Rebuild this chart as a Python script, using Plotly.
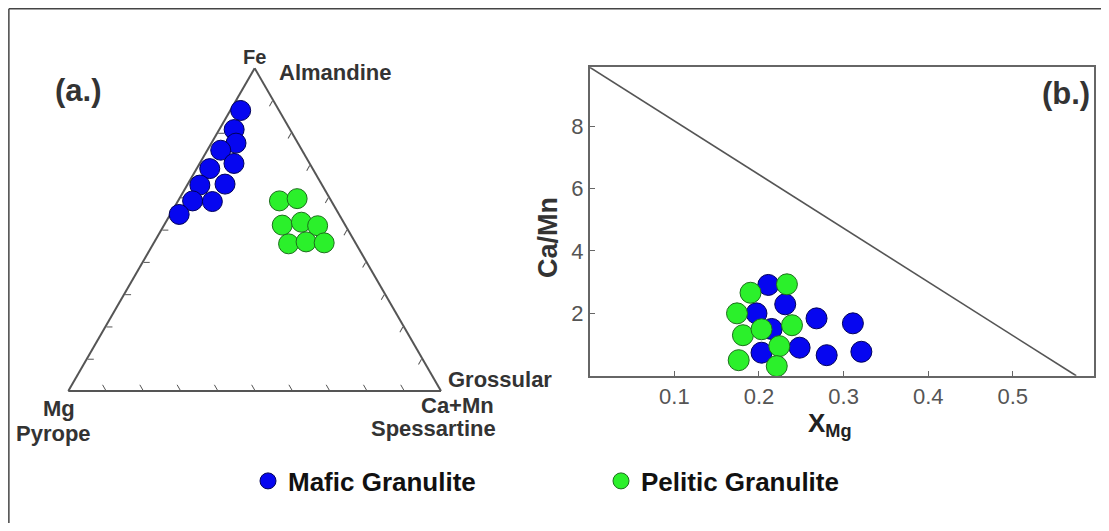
import plotly.graph_objects as go

# ---------------- data ----------------
# (a.) ternary Fe - Mg - (Ca+Mn), percent
mafic_fe = [86.9, 81.0, 76.8, 74.6, 70.5, 68.9, 64.1, 63.8, 58.9, 58.7, 54.7]
mafic_mg = [10.3, 15.0, 16.6, 21.8, 20.3, 27.6, 25.9, 32.8, 37.2, 32.0, 42.9]
mafic_camn = [2.8, 4.0, 6.6, 3.6, 9.2, 3.5, 10.0, 3.4, 3.9, 9.3, 2.4]

pelitic_fe = [58.9, 59.6, 51.4, 52.3, 51.2, 45.6, 46.2, 45.9]
pelitic_mg = [13.9, 8.8, 16.9, 11.3, 7.5, 18.1, 13.1, 8.4]
pelitic_camn = [27.2, 31.6, 31.7, 36.4, 41.3, 36.3, 40.7, 45.7]

# (b.) XMg vs Ca/Mn
mafic_xmg = [0.211, 0.231, 0.197, 0.215, 0.268, 0.311, 0.203, 0.248, 0.280, 0.321]
mafic_camn_ratio = [2.91, 2.29, 2.00, 1.50, 1.84, 1.68, 0.74, 0.90, 0.66, 0.77]
pelitic_xmg = [0.190, 0.233, 0.174, 0.239, 0.181, 0.203, 0.224, 0.176, 0.221]
pelitic_camn_ratio = [2.66, 2.93, 2.00, 1.62, 1.30, 1.49, 0.95, 0.50, 0.31]

boundary_xmg = [0.0, 0.575]
boundary_camn = [9.88, 0.0]

x_ticks = [0.1, 0.2, 0.3, 0.4, 0.5]
x_ticklabels = ["0.1", "0.2", "0.3", "0.4", "0.5"]
y_ticks = [2, 4, 6, 8]
y_ticklabels = ["2", "4", "6", "8"]

series_names = ["Mafic Granulite", "Pelitic Granulite"]

# ---------------- style ----------------
PAGE_OFF = 8                      # default body margin of the html page
FW, FH = 1109 - 2 * PAGE_OFF, 531 - 2 * PAGE_OFF
BLUE, BLUE_EDGE = "#0606F0", "#00005A"
GREEN, GREEN_EDGE = "#2BF02B", "#1C6E1C"
FONT = "Liberation Sans, Arial, sans-serif"
MS = 20


def fx(p):
    return (p - PAGE_OFF) / FW


def fy(p):
    return 1 - (p - PAGE_OFF) / FH


fig = go.Figure()

fig.add_trace(go.Scatterternary(
    a=mafic_fe, b=mafic_mg, c=mafic_camn, mode="markers", name=series_names[0],
    marker=dict(size=MS, color=BLUE, line=dict(color=BLUE_EDGE, width=1)),
    cliponaxis=False, subplot="ternary", showlegend=True))
fig.add_trace(go.Scatterternary(
    a=pelitic_fe, b=pelitic_mg, c=pelitic_camn, mode="markers", name=series_names[1],
    marker=dict(size=MS, color=GREEN, line=dict(color=GREEN_EDGE, width=1)),
    cliponaxis=False, subplot="ternary", showlegend=True))

fig.add_trace(go.Scatter(
    x=boundary_xmg, y=boundary_camn, mode="lines", line=dict(color="#555555", width=1.6),
    showlegend=False, hoverinfo="skip"))
fig.add_trace(go.Scatter(
    x=mafic_xmg, y=mafic_camn_ratio, mode="markers", name=series_names[0],
    marker=dict(size=MS + 1, color=BLUE, line=dict(color=BLUE_EDGE, width=1)),
    showlegend=False, cliponaxis=False))
fig.add_trace(go.Scatter(
    x=pelitic_xmg, y=pelitic_camn_ratio, mode="markers", name=series_names[1],
    marker=dict(size=MS + 1, color=GREEN, line=dict(color=GREEN_EDGE, width=1)),
    showlegend=False, cliponaxis=False))

tern_ax = dict(showgrid=False, showticklabels=False, ticks="inside", ticklen=6, tickwidth=1.2,
               tickcolor="#555555", dtick=10, linecolor="#555555", linewidth=2,
               title=dict(text=""), layer="below traces")

# triangle: Mg (68.3, 391), Ca+Mn (441, 391) in page pixels
tx0, tx1, tbase = 68.3, 441.0, 391.0
theight = (tx1 - tx0) * 0.8660254

fig.update_layout(
    width=FW, height=FH,
    margin=dict(l=0, r=0, t=0, b=0),
    paper_bgcolor="white", plot_bgcolor="white",
    font=dict(family=FONT, color="#333333"),
    ternary=dict(
        sum=100,
        domain=dict(x=[fx(tx0), fx(tx1)], y=[fy(tbase), fy(tbase - theight)]),
        bgcolor="white",
        aaxis=tern_ax, baxis=tern_ax, caxis=tern_ax,
    ),
    xaxis=dict(
        domain=[fx(589.8), fx(1094)], range=[0, 0.596],
        tickvals=x_ticks, ticktext=x_ticklabels,
        ticks="inside", ticklen=5, tickcolor="#666666",
        tickfont=dict(size=22, color="#555555", family=FONT),
        showline=True, mirror=True, linecolor="#666666", linewidth=2,
        showgrid=False, zeroline=False,
    ),
    yaxis=dict(
        domain=[fy(375.8), fy(67.3)], range=[0, 9.88],
        tickvals=y_ticks, ticktext=y_ticklabels,
        ticks="inside", ticklen=5, tickcolor="#666666",
        tickfont=dict(size=22, color="#555555", family=FONT),
        showline=True, mirror=True, linecolor="#666666", linewidth=2,
        showgrid=False, zeroline=False,
    ),
    legend=dict(
        orientation="h", x=fx(248), y=fy(481), xanchor="left", yanchor="middle",
        font=dict(size=26, color="#111111", family=FONT, weight="bold"),
        entrywidth=308, entrywidthmode="pixels", bgcolor="rgba(0,0,0,0)",
        itemsizing="trace",
    ),
    showlegend=True,
)


def label(text, x, y, size=22, xanchor="center", textangle=0, color="#333333"):
    fig.add_annotation(text=text, x=fx(x), y=fy(y), xref="paper", yref="paper",
                       xanchor=xanchor, yanchor="middle", showarrow=False, textangle=textangle,
                       font=dict(size=size, color=color, family=FONT, weight="bold"))


label("(a.)", 78, 90, size=31)
label("Fe", 254, 57, size=20)
label("Almandine", 277, 73, xanchor="left")
label("Grossular", 446, 379, xanchor="left")
label("Ca+Mn", 457, 405)
label("Spessartine", 433, 428)
label("Mg", 59, 408)
label("Pyrope", 53, 433)
label("(b.)", 1066, 93, size=31)
label("Ca/Mn", 548, 238, size=27, textangle=-90)
label("X<sub>Mg</sub>", 830, 424, size=26, color="#222222")

# outer frame (left and top edges) at the page's edge of the figure
fig.add_shape(type="line", xref="paper", yref="paper", x0=0.0008, x1=0.0008, y0=0, y1=0.9985,
              line=dict(color="#444444", width=1.5))
fig.add_shape(type="line", xref="paper", yref="paper", x0=0.0008, x1=1, y0=0.9985, y1=0.9985,
              line=dict(color="#444444", width=1.5))

fig.write_html("out.html")
